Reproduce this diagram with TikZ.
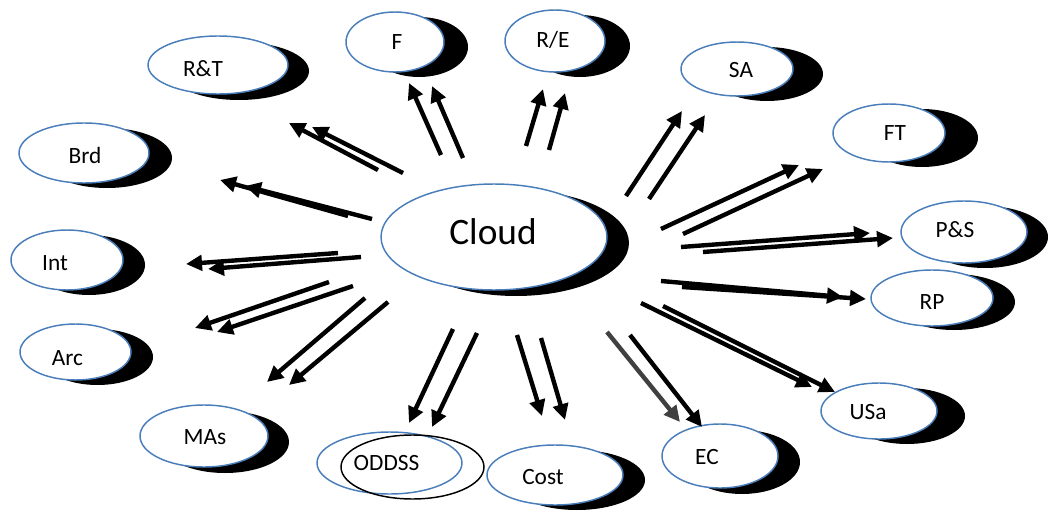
\documentclass[tikz,border=0pt]{standalone}
\usepackage{fontspec}
\setmainfont{Carlito}
\usetikzlibrary{arrows.meta,shapes.geometric}

\definecolor{bubblue}{HTML}{4A7EBB}
\definecolor{arrgray}{HTML}{404040}

% #1 name, #2/#3 centre, #4/#5 radii, #6/#7 shadow offset, #8 text, #9 text shift
\newcommand\bubble[9]{%
  \node[bubshade, minimum width=#4*1.5pt, minimum height=#5*1.5pt]
    (#1-shadow) at (#2+#6,#3+#7) {};
  \node[bubfill, minimum width=#4*1.5pt, minimum height=#5*1.5pt,
    label={[lbl, shift={(#9)}]center:#8}] (#1) at (#2,#3) {};
}

\begin{document}
\begin{tikzpicture}[x=0.75pt,y=-0.75pt,
  bubfill/.style={ellipse, draw=bubblue, line width=1.1pt, fill=white,
    inner sep=0pt, outer sep=0pt},
  bubshade/.style={ellipse, fill=black, inner sep=0pt, outer sep=0pt},
  ring/.style={ellipse, line width=1.1pt, inner sep=0pt, outer sep=0pt},
  lbl/.style={inner sep=0pt, font=\fontsize{17.5}{20}\selectfont},
  arr/.style={line width=3.3pt, -{Triangle[length=12pt,width=11.5pt]}},
]
\useasboundingbox (0,0) rectangle (1049,510);

% central topic
\bubble{cloud}{494}{237}{113}{53}{22}{6}{\fontsize{28}{32}\selectfont Cloud}{-1,-5}

% surrounding topics
\bubble{f}{395}{42}{49}{30}{24}{5}{F}{2,0}
\bubble{re}{555}{41}{50}{31}{25}{5}{R/E}{-2,-1}
\bubble{rt}{218}{65}{70}{29}{21}{6}{R\&T}{-15,4}
\bubble{sa}{737}{69}{56}{27}{30}{5}{SA}{4,1}
\bubble{brd}{84}{153}{65}{30}{23}{5}{Brd}{1,2}
\bubble{ft}{889}{133}{56}{29}{33}{5}{FT}{6,0}
\bubble{int}{67}{260}{56}{30}{22}{5}{Int}{-12,3}
\bubble{ps}{964}{232}{63}{31}{21}{5}{P\&S}{-9,-2}
\bubble{rp}{932}{298}{61}{28}{22}{4}{RP}{0,4}
\bubble{arc}{75.5}{352}{55.5}{28}{22}{5}{Arc}{-8,6}
\bubble{usa}{879}{411}{58}{28}{28}{5}{USa}{-11,1}
\bubble{mas}{204}{436}{64}{31}{21}{6}{MAs}{1,1}
\bubble{cost}{555}{475}{68}{30}{22}{5}{Cost}{-12,2}
\bubble{ec}{720}{456}{58}{32}{22}{6}{EC}{-13,1}

% ODDSS: outline ellipse with an outlined (unfilled) shadow ring
\node[ring, draw=bubblue, minimum width=145*0.75pt, minimum height=62*0.75pt,
  label={[lbl, shift={(-3,0)}]center:ODDSS}] (oddss) at (389.5,463) {};
\node[ring, draw=black, minimum width=143*0.75pt, minimum height=64*0.75pt]
  (oddss-shadow) at (412.5,467) {};

% paired arrows from the centre outwards
\foreach \n/\tx/\ty/\hx/\hy in {
  f1/441/155/409/83, f2/463/158/432/86,
  re1/526/146/543/89, re2/549/150/565/93,
  sa1/626/196/682/111, sa2/649/199/705/115,
  ft1/661/229/799/165, ft2/683/234/823/169,
  ps1/681/247/870/233, ps2/703/252/893/238,
  rp1/661/281/843/297, rp2/682/287/866/299,
  usa1/641/303/812/387, usa2/663/306/835/392,
  ec2/630/335/702/427,
  cost1/517/335/542/416, cost2/541/338/565/420,
  od1/453/329/409/423, od2/477/333/432/427,
  mas1/365/298/267/382, mas2/388/302/289/385,
  arc1/329/282/195/328, arc2/353/286/217/332,
  int1/338/253/186/264, int2/361/257/208/269,
  brd1/348/216/220/180, brd2/372/219/245/186,
  rt1/378/170/289/123, rt2/403/173/312/127}
{
  \coordinate (\n-t) at (\tx,\ty);
  \coordinate (\n-h) at (\hx,\hy);
  \draw[arr] (\n-t) -- (\n-h);
}

% the one grey arrow towards EC
\coordinate (ec1-t) at (607,332);
\coordinate (ec1-h) at (680,422);
\draw[arr, draw=arrgray, fill=arrgray] (ec1-t) -- (ec1-h);
\end{tikzpicture}
\end{document}
